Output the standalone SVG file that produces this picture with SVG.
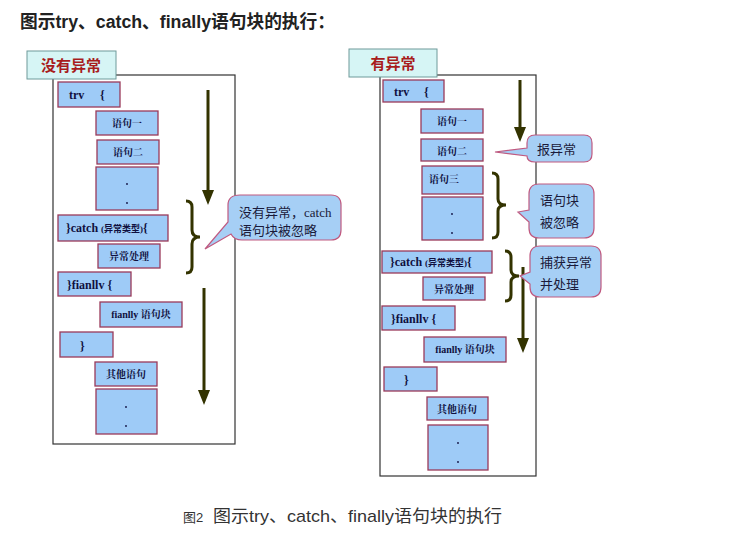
<svg xmlns="http://www.w3.org/2000/svg" width="738" height="547" viewBox="0 0 738 547">
<style>
.frame{fill:#ffffff;stroke:#333333;stroke-width:1.2}
.tag{fill:#d6f5f5;stroke:#6f9a9a;stroke-width:1}
.tagt{font-family:"Noto Sans CJK SC","Liberation Sans",sans-serif;font-weight:bold;font-size:15px;fill:#a81c1c;text-anchor:middle}
.box{fill:#9ecbf7;stroke:#9a3a5a;stroke-width:1.3}
.bt{font-family:"Liberation Serif","Noto Serif CJK SC","Noto Sans CJK SC",serif;font-weight:bold;font-size:10px;fill:#101040;text-anchor:middle}
.bl{font-family:"Liberation Serif","Noto Sans CJK SC",serif;font-weight:bold;font-size:12px;fill:#101040}
.dot{fill:#101040}
.arr{stroke:#333300;stroke-width:3;fill:none}
.ah{fill:#333300}
.brace{stroke:#333300;stroke-width:3;fill:none}
.call{fill:#a6cff5;stroke:#c05a80;stroke-width:1.2}
.ct{font-family:"Noto Sans CJK SC","Liberation Sans",sans-serif;font-size:13px;fill:#1a1a3a}
.title{font-family:"Liberation Sans","Noto Sans CJK SC",sans-serif;font-weight:bold;font-size:18px;fill:#222222}
.cap{font-family:"Liberation Sans","Noto Sans CJK SC",sans-serif;fill:#333333}
</style>
<text class="title" x="20" y="28" textLength="315" lengthAdjust="spacingAndGlyphs">图示try、catch、finally语句块的执行：</text>

<g id="left-panel">
<rect class="frame" x="53" y="75" width="182" height="369"/>
<g id="l-tag"><rect class="tag" x="27" y="51" width="89" height="28"/><text class="tagt" x="71" y="71">没有异常</text></g>
<g id="l-try"><rect class="box" x="58" y="82" width="62" height="25"/><text class="bl" x="69" y="99">trv</text><text class="bl" x="100" y="99">{</text></g>
<g id="l-s1"><rect class="box" x="96" y="111" width="62" height="24"/><text class="bt" x="127" y="127">语句一</text></g>
<g id="l-s2"><rect class="box" x="97" y="140" width="62" height="24"/><text class="bt" x="128" y="156">语句二</text></g>
<g id="l-dots1"><rect class="box" x="96" y="167" width="62" height="43"/><circle class="dot" cx="127" cy="184" r="0.9"/><circle class="dot" cx="127" cy="203" r="0.9"/></g>
<g id="l-catch"><rect class="box" x="58" y="215" width="110" height="26"/><text class="bl" x="66" y="232">}catch <tspan font-size="9">(异常类型)</tspan>{</text></g>
<g id="l-handle"><rect class="box" x="98" y="244" width="62" height="24"/><text class="bt" x="129" y="260">异常处理</text></g>
<g id="l-fin"><rect class="box" x="58" y="272" width="73" height="24"/><text class="bl" x="67" y="289">}fianllv {</text></g>
<g id="l-finblk"><rect class="box" x="100" y="302" width="82" height="25"/><text class="bt" x="141" y="318">fianlly 语句块</text></g>
<g id="l-close"><rect class="box" x="60" y="332" width="53" height="25"/><text class="bl" x="80" y="350">}</text></g>
<g id="l-other"><rect class="box" x="95" y="362" width="62" height="24"/><text class="bt" x="126" y="378">其他语句</text></g>
<g id="l-dots2"><rect class="box" x="96" y="389" width="61" height="45"/><circle class="dot" cx="126" cy="407" r="0.9"/><circle class="dot" cx="126" cy="426" r="0.9"/></g>
</g>

<g id="right-panel">
<rect class="frame" x="380" y="75" width="156" height="401"/>
<g id="r-tag"><rect class="tag" x="349" y="49" width="88" height="28"/><text class="tagt" x="393" y="69">有异常</text></g>
<g id="r-try"><rect class="box" x="383" y="80" width="61" height="22"/><text class="bl" x="394" y="96">trv</text><text class="bl" x="424" y="96">{</text></g>
<g id="r-s1"><rect class="box" x="421" y="109" width="62" height="24"/><text class="bt" x="452" y="125">语句一</text></g>
<g id="r-s2"><rect class="box" x="421" y="139" width="62" height="22"/><text class="bt" x="452" y="155">语句二</text></g>
<g id="r-s3"><rect class="box" x="422" y="166" width="61" height="28"/><text class="bt" x="444" y="183">语句三</text></g>
<g id="r-dots1"><rect class="box" x="422" y="197" width="61" height="43"/><circle class="dot" cx="452" cy="214" r="0.9"/><circle class="dot" cx="452" cy="233" r="0.9"/></g>
<g id="r-catch"><rect class="box" x="382" y="251" width="110" height="22"/><text class="bl" x="390" y="266">}catch <tspan font-size="9">(异常类型)</tspan>{</text></g>
<g id="r-handle"><rect class="box" x="423" y="277" width="62" height="23"/><text class="bt" x="454" y="293">异常处理</text></g>
<g id="r-fin"><rect class="box" x="382" y="306" width="73" height="24"/><text class="bl" x="391" y="323">}fianllv {</text></g>
<g id="r-finblk"><rect class="box" x="424" y="337" width="82" height="25"/><text class="bt" x="465" y="353">fianlly 语句块</text></g>
<g id="r-close"><rect class="box" x="384" y="367" width="53" height="24"/><text class="bl" x="404" y="384">}</text></g>
<g id="r-other"><rect class="box" x="427" y="397" width="61" height="23"/><text class="bt" x="457" y="413">其他语句</text></g>
<g id="r-dots2"><rect class="box" x="428" y="425" width="60" height="45"/><circle class="dot" cx="458" cy="443" r="0.9"/><circle class="dot" cx="458" cy="462" r="0.9"/></g>
</g>

<g id="connectors">
<line class="arr" x1="208" y1="90" x2="208" y2="192"/><polygon class="ah" points="202,190 214,190 208,205"/>
<path class="brace" d="M186,201 Q192,201 192,207 L192,230 Q192,237 200,237 Q192,237 192,244 L192,267 Q192,273 186,273"/>
<line class="arr" x1="204" y1="288" x2="204" y2="392"/><polygon class="ah" points="198,390 210,390 204,405"/>
<line class="arr" x1="520" y1="80" x2="520" y2="129"/><polygon class="ah" points="514,127 526,127 520,142"/>
<path class="brace" d="M492,173 Q498,173 498,179 L498,199 Q498,205 506,205 Q498,205 498,211 L498,232 Q498,238 492,238"/>
<path class="brace" d="M505,251 Q511,251 511,257 L511,270 Q511,276 519,276 Q511,276 511,282 L511,295 Q511,301 505,301"/>
<line class="arr" x1="523" y1="267" x2="523" y2="340"/><polygon class="ah" points="517,338 529,338 523,353"/>
</g>

<g id="callout-l">
<path class="call" d="M240,195 H331 Q341,195 341,205 V230 Q341,240 331,240 H242 Q234,240 231,234 L205,249 L228,222 V205 Q228,195 240,195 Z"/>
<text class="ct" x="239" y="217">没有异常，<tspan font-family="Liberation Serif,serif">catch</tspan></text>
<text class="ct" x="239" y="235">语句块被忽略</text>
</g>
<g id="callout-r1">
<path class="call" d="M535,135 H584 Q592,135 592,143 V154 Q592,162 584,162 H535 Q527,162 527,156 L495,152 L527,148 V143 Q527,135 535,135 Z"/>
<text class="ct" x="537" y="154" font-size="14">报异常</text>
</g>
<g id="callout-r2">
<path class="call" d="M539,184 H584 Q594,184 594,194 V228 Q594,238 584,238 H539 Q529,238 529,228 V222 L518,212 L529,210 V194 Q529,184 539,184 Z"/>
<text class="ct" x="540" y="205" font-size="14">语句块</text>
<text class="ct" x="540" y="227" font-size="14">被忽略</text>
</g>
<g id="callout-r3">
<path class="call" d="M540,246 H591 Q601,246 601,256 V287 Q601,297 591,297 H540 Q530,297 530,287 V284 L520,276 L530,272 V256 Q530,246 540,246 Z"/>
<text class="ct" x="540" y="267">捕获异常</text>
<text class="ct" x="540" y="289">并处理</text>
</g>

<text class="cap" x="183" y="522" font-size="13">图2</text>
<text class="cap" x="213" y="522" font-size="17" textLength="289" lengthAdjust="spacingAndGlyphs">图示try、catch、finally语句块的执行</text>
</svg>
